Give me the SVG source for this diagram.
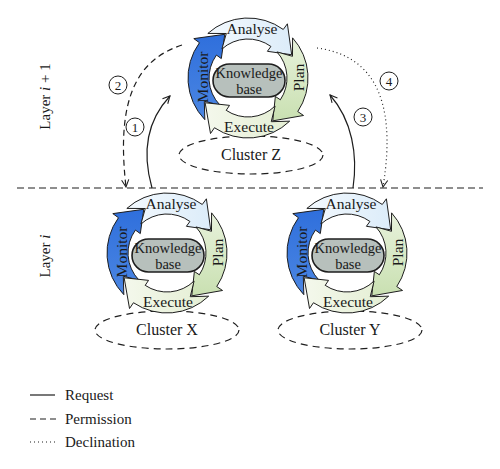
<svg xmlns="http://www.w3.org/2000/svg" width="500" height="469" viewBox="0 0 500 469">
<style>
.seg{stroke:#1e1e1e;stroke-width:1;stroke-linejoin:miter}
.kb{fill:#b7c0bc;stroke:#1e1e1e;stroke-width:1.6}
.t{font-family:"Liberation Serif","Times New Roman",serif;fill:#1a1a1a;text-anchor:middle}
.rt{font-size:15.5px}
.kt{font-size:14.5px}
.clu{fill:none;stroke:#1e1e1e;stroke-width:1.2;stroke-dasharray:7 5}
.ln{fill:none;stroke:#1e1e1e;stroke-width:1.2}
.dash{stroke-dasharray:6 4}
.dot{stroke-dasharray:1 3}
.num{fill:#fff;stroke:#1e1e1e;stroke-width:1}
.nt{font-size:13px}
.leg{font-family:"Liberation Serif","Times New Roman",serif;fill:#1a1a1a;font-size:15px}
</style>
<defs>
<linearGradient id="gM" x1="0" y1="0" x2="0" y2="1"><stop offset="0" stop-color="#2f6fdc"/><stop offset="1" stop-color="#4b86e2"/></linearGradient>
<linearGradient id="gA" x1="0" y1="0" x2="1" y2="0"><stop offset="0" stop-color="#f3f9fe"/><stop offset="1" stop-color="#dcecf9"/></linearGradient>
<linearGradient id="gP" x1="0" y1="0" x2="0" y2="1"><stop offset="0" stop-color="#e8f2dc"/><stop offset="1" stop-color="#c9e0b1"/></linearGradient>
<linearGradient id="gE" x1="1" y1="0" x2="0" y2="0"><stop offset="0" stop-color="#e4eed3"/><stop offset="1" stop-color="#f4f8ec"/></linearGradient>
<path id="segM" d="M-43.16,41.68 A60,60 0 0 1 -48.54,-35.27 L-54.2,-39.38 L-23.24,-43.7 L-26.7,-19.4 L-31.55,-22.92 A39,39 0 0 0 -28.05,27.09 L-43.7,23.24 Z"/>
<path id="segA" d="M-40.15,-44.59 A60,60 0 0 1 35.27,-48.54 L39.38,-54.2 L43.7,-23.24 L19.4,-26.7 L22.92,-31.55 A39,39 0 0 0 -26.09,-28.98 L-21.7,-44.49 Z"/>
<path id="segP" d="M44.59,-40.15 A60,60 0 0 1 49.74,33.55 L55.54,37.47 L24.75,42.87 L27.36,18.45 L32.33,21.81 A39,39 0 0 0 28.98,-26.09 L44.49,-21.7 Z"/>
<path id="segE" d="M41.68,43.16 A60,60 0 0 1 -33.55,49.74 L-37.47,55.54 L-42.87,24.75 L-18.45,27.36 L-21.81,32.33 A39,39 0 0 0 27.09,28.05 L23.24,43.7 Z"/>
<rect id="kbBox" x="-35" y="-14" width="72" height="33" rx="16.5" ry="16.5"/>
<marker id="ah" viewBox="0 0 10 10" refX="9" refY="5" markerWidth="9" markerHeight="9" markerUnits="userSpaceOnUse" orient="auto"><path d="M1,1 L9,5 L1,9" fill="none" stroke="#1e1e1e" stroke-width="1.2" stroke-dasharray="none"/></marker>
</defs>

<g id="layer-labels">
<text class="t" font-size="15" transform="translate(50,96.5) rotate(-90)">Layer <tspan font-style="italic">i</tspan> + 1</text>
<text class="t" font-size="15" transform="translate(50,256) rotate(-90)">Layer <tspan font-style="italic">i</tspan></text>
</g>

<g id="divider">
<line class="ln" x1="17" y1="188" x2="483" y2="188" stroke-dasharray="7 4"/>
</g>

<g id="cluster-z"><ellipse class="clu" cx="251" cy="155" rx="72" ry="19"/><text class="t" font-size="16" x="251" y="160">Cluster Z</text></g>
<g id="cluster-x"><ellipse class="clu" cx="167" cy="330" rx="72" ry="19"/><text class="t" font-size="16" x="167" y="335">Cluster X</text></g>
<g id="cluster-y"><ellipse class="clu" cx="350" cy="330" rx="72" ry="19"/><text class="t" font-size="16" x="350" y="335">Cluster Y</text></g>

<g id="loop-z" transform="translate(248,78)">
<use href="#segM" class="seg" fill="url(#gM)"/>
<use href="#segA" class="seg" fill="url(#gA)"/>
<use href="#segP" class="seg" fill="url(#gP)"/>
<use href="#segE" class="seg" fill="url(#gE)"/>
<use href="#kbBox" class="kb"/>
<text class="t rt" x="4" y="-44">Analyse</text>
<text class="t rt" x="1" y="53.5">Execute</text>
<text class="t rt" transform="translate(-40.5,-1) rotate(-90)">Monitor</text>
<text class="t rt" transform="translate(56,-0.5) rotate(-90)">Plan</text>
<text class="t kt" x="1" y="-0.5">Knowledge</text>
<text class="t kt" x="1" y="15.5">base</text>
</g>

<g id="loop-x" transform="translate(167,253)">
<use href="#segM" class="seg" fill="url(#gM)"/>
<use href="#segA" class="seg" fill="url(#gA)"/>
<use href="#segP" class="seg" fill="url(#gP)"/>
<use href="#segE" class="seg" fill="url(#gE)"/>
<use href="#kbBox" class="kb"/>
<text class="t rt" x="4" y="-44">Analyse</text>
<text class="t rt" x="1" y="53.5">Execute</text>
<text class="t rt" transform="translate(-40.5,-1) rotate(-90)">Monitor</text>
<text class="t rt" transform="translate(56,-0.5) rotate(-90)">Plan</text>
<text class="t kt" x="1" y="-0.5">Knowledge</text>
<text class="t kt" x="1" y="15.5">base</text>
</g>

<g id="loop-y" transform="translate(347,253)">
<use href="#segM" class="seg" fill="url(#gM)"/>
<use href="#segA" class="seg" fill="url(#gA)"/>
<use href="#segP" class="seg" fill="url(#gP)"/>
<use href="#segE" class="seg" fill="url(#gE)"/>
<use href="#kbBox" class="kb"/>
<text class="t rt" x="4" y="-44">Analyse</text>
<text class="t rt" x="1" y="53.5">Execute</text>
<text class="t rt" transform="translate(-40.5,-1) rotate(-90)">Monitor</text>
<text class="t rt" transform="translate(56,-0.5) rotate(-90)">Plan</text>
<text class="t kt" x="1" y="-0.5">Knowledge</text>
<text class="t kt" x="1" y="15.5">base</text>
</g>

<g id="connectors">
<path class="ln" d="M152,188 C144,160 143,125 170,96" marker-end="url(#ah)"/>
<path class="ln dash" d="M182,45 C136,60 116,100 126,187" marker-end="url(#ah)"/>
<path class="ln" d="M353,188 C358,155 352,120 330,95" marker-end="url(#ah)"/>
<path class="ln dot" d="M317,48 C370,55 398,95 383,187" marker-end="url(#ah)"/>
<g id="n1"><circle class="num" cx="135" cy="127" r="9"/><text class="t nt" x="135" y="131.5">1</text></g>
<g id="n2"><circle class="num" cx="118" cy="85" r="9"/><text class="t nt" x="118" y="89.5">2</text></g>
<g id="n3"><circle class="num" cx="363" cy="117" r="9"/><text class="t nt" x="363" y="121.5">3</text></g>
<g id="n4"><circle class="num" cx="389" cy="81" r="9"/><text class="t nt" x="389" y="85.5">4</text></g>
</g>

<g id="legend">
<line class="ln" x1="30" y1="395" x2="55" y2="395"/>
<line class="ln dash" x1="30" y1="419" x2="56" y2="419"/>
<line class="ln dot" x1="30" y1="442" x2="56" y2="442"/>
<text class="leg" x="65" y="400">Request</text>
<text class="leg" x="65" y="424">Permission</text>
<text class="leg" x="65" y="447">Declination</text>
</g>
</svg>
